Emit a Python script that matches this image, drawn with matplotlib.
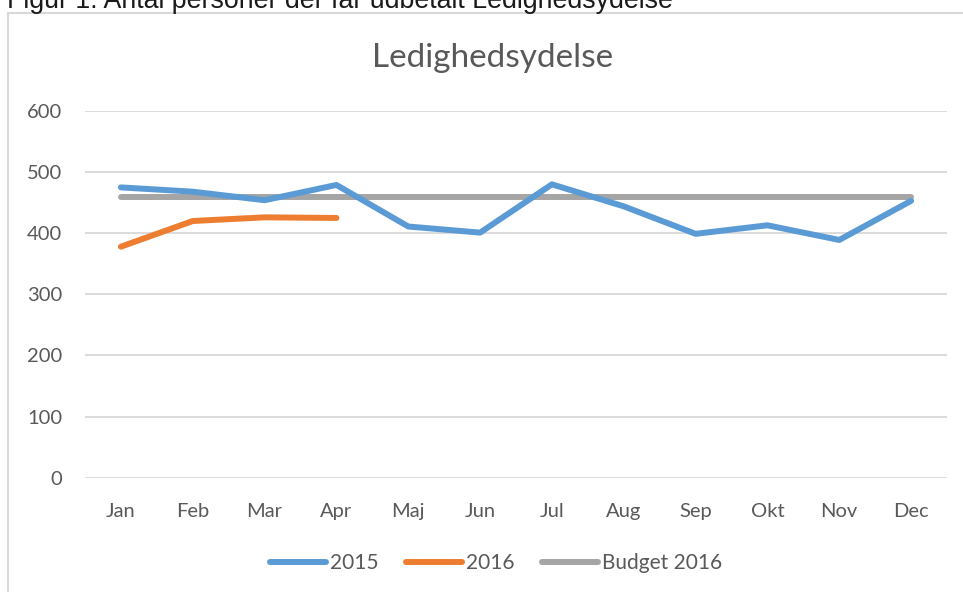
import matplotlib
matplotlib.use("Agg")
import matplotlib.pyplot as plt
from matplotlib.patches import Rectangle
from matplotlib.lines import Line2D

months = ["Jan", "Feb", "Mar", "Apr", "Maj", "Jun", "Jul", "Aug", "Sep", "Okt", "Nov", "Dec"]
y2015 = [475, 468, 454, 479, 411, 401, 480, 444, 399, 413, 389, 453]
y2016 = [378, 420, 426, 425]
budget2016 = [460] * 12
yticks = [0, 100, 200, 300, 400, 500, 600]

W, H = 963, 592
fig = plt.figure(figsize=(W / 100, H / 100), dpi=100)
fig.patch.set_facecolor("white")

font = ["Lato", "DejaVu Sans"]
txtc = "#595959"

# outer chart border
fig.patches.append(Rectangle((8 / W, -0.1), 1.2, 1 - 12.5 / H + 0.1, transform=fig.transFigure,
                             fill=False, edgecolor="#d9d9d9", linewidth=1.5, zorder=0))
fig.text(7 / W, 1 - 8.5 / H, "Figur 1: Antal personer der får udbetalt Ledighedsydelse",
         family=["Liberation Sans", "DejaVu Sans"], fontsize=19.3, color="#1a1a1a",
         ha="left", va="baseline")

ax = fig.add_axes([85 / W, 1 - 477.7 / H, (947 - 85) / W, (477.7 - 111) / H])
x = list(range(len(months)))
ax.plot(x, y2015, color="#5B9BD5", lw=4.3, solid_capstyle="round", solid_joinstyle="round", zorder=3, label="2015")
ax.plot(x[:len(y2016)], y2016, color="#ED7D31", lw=4.3, solid_capstyle="round", solid_joinstyle="round", zorder=3, label="2016")
ax.plot(x, budget2016, color="#A5A5A5", lw=4.3, solid_capstyle="round", zorder=2, label="Budget 2016")

ax.set_xlim(-0.5, 11.5)
ax.set_ylim(0, 600)
ax.set_yticks(yticks)
ax.set_yticklabels([str(v) for v in yticks], family=font, fontsize=14.5, color=txtc)
ax.set_xticks(x)
ax.set_xticklabels(months, family=font, fontsize=14.5, color=txtc)
ax.tick_params(axis="both", length=0)
ax.tick_params(axis="y", pad=16.5)
ax.tick_params(axis="x", pad=18)
ax.grid(axis="y", color="#d9d9d9", lw=1.3)
ax.set_axisbelow(True)
for s in ax.spines.values():
    s.set_visible(False)

fig.text(493 / W, 1 - 58 / H, "Ledighedsydelse", family=font, fontsize=24, color=txtc,
         ha="center", va="center")

handles = [Line2D([], [], color=c, lw=4.3, solid_capstyle="round") for c in ("#5B9BD5", "#ED7D31", "#A5A5A5")]
leg = fig.legend(handles, ["2015", "2016", "Budget 2016"], loc="center", bbox_to_anchor=(496 / W, 1 - 563 / H),
                 ncol=3, frameon=False, handlelength=2.7, handletextpad=0.2, columnspacing=1.3,
                 prop={"family": font, "size": 15})
for t in leg.get_texts():
    t.set_color(txtc)

fig.savefig("out.png", dpi=100, facecolor="white")
